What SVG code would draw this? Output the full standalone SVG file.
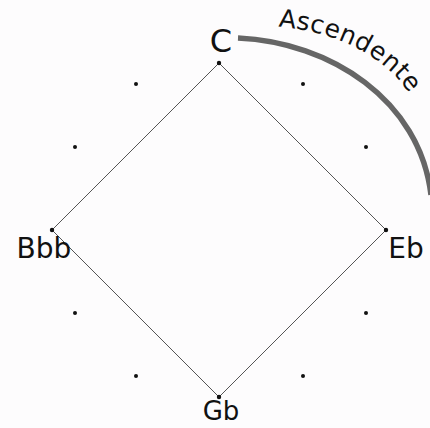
<svg xmlns="http://www.w3.org/2000/svg" width="430" height="428" viewBox="0 0 430 428">
<style>
.lbl{font-family:"DejaVu Sans","Liberation Sans",sans-serif;fill:#111;}
.dot{fill:#111;}
.edge{stroke:#555;stroke-width:1;fill:none;}
</style>
<defs>
<path id="tp" d="M 272 26 C 340 31, 390 58, 416 104"/>
</defs>
<rect width="430" height="428" fill="#fdfcfd"/>
<g id="connectors">
<path class="edge" d="M219 63 L386 230 L219 397 L52 230 Z"/>
<path d="M 238 38 C 330 42, 420 100, 431 195" stroke="#666" stroke-width="5.5" fill="none"/>
</g>
<g id="dots">
<circle class="dot" cx="303" cy="84" r="2"/>
<circle class="dot" cx="366" cy="147" r="2"/>
<circle class="dot" cx="366" cy="313" r="2"/>
<circle class="dot" cx="303" cy="376" r="2"/>
<circle class="dot" cx="136" cy="376" r="2"/>
<circle class="dot" cx="75" cy="313" r="2"/>
<circle class="dot" cx="75" cy="147" r="2"/>
<circle class="dot" cx="136" cy="84" r="2"/>
</g>
<g id="node-C">
<circle class="dot" cx="219" cy="63" r="2.2"/>
<text class="lbl" x="221" y="52" font-size="32" text-anchor="middle">C</text>
</g>
<g id="node-Eb">
<circle class="dot" cx="386" cy="230" r="2.2"/>
<text class="lbl" x="406" y="258" font-size="28" text-anchor="middle">Eb</text>
</g>
<g id="node-Gb">
<circle class="dot" cx="219" cy="397" r="2.2"/>
<text class="lbl" x="221" y="420" font-size="26" text-anchor="middle">Gb</text>
</g>
<g id="node-Bbb">
<circle class="dot" cx="52" cy="230" r="2.2"/>
<text class="lbl" x="44" y="258" font-size="28" text-anchor="middle">Bbb</text>
</g>
<g id="label-ascendente">
<text class="lbl" font-size="25" letter-spacing="0.5"><textPath href="#tp" startOffset="6">Ascendente</textPath></text>
</g>
</svg>
